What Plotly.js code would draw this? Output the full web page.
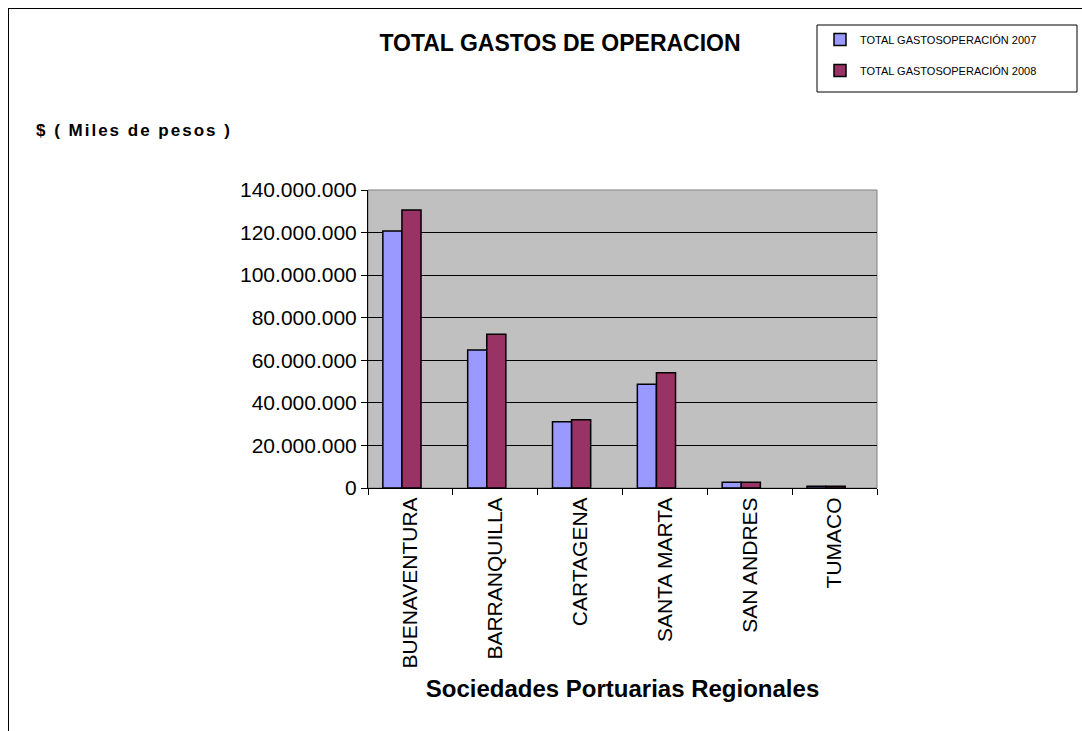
<!DOCTYPE html>
<html>
<head>
<meta charset="utf-8">
<script src="https://cdn.plot.ly/plotly-3.0.1.min.js"></script>
<style>
  html, body { margin: 0; padding: 0; background: #fff; overflow: hidden; }
  #chart { width: 1082px; height: 731px; position: absolute; left: 0; top: 0; }
  #frame { position: absolute; left: 8px; top: 8px; width: 1100px; height: 800px; border: 1px solid #000; pointer-events: none; }
  #chart .annotation-text { letter-spacing: 2px; }
</style>
</head>
<body>
<div id="chart"></div>
<div id="frame"></div>
<script>
const categories = ["BUENAVENTURA", "BARRANQUILLA", "CARTAGENA", "SANTA MARTA", "SAN ANDRES", "TUMACO"];
const gastos2007 = [120700000, 64800000, 31100000, 48700000, 2700000, 800000];
const gastos2008 = [130600000, 72200000, 32100000, 54200000, 2700000, 800000];
const seriesNames = ["TOTAL GASTOSOPERACIÓN 2007", "TOTAL GASTOSOPERACIÓN 2008"];

const FONT = "Arial, 'Liberation Sans', sans-serif";

const traces = [
  { type: "bar", x: categories, y: gastos2007, name: seriesNames[0], legendgroup: "a",
    width: 0.225, offset: -0.325,
    marker: { color: "#9999FF", line: { color: "#000", width: 1.5 } } },
  { type: "bar", x: categories, y: gastos2008, name: seriesNames[1], legendgroup: "b",
    width: 0.225, offset: -0.1,
    marker: { color: "#993366", line: { color: "#000", width: 1.5 } } }
];

const layout = {
  width: 1082, height: 731,
  margin: { l: 368, r: 205, t: 190, b: 243, pad: 0 },
  paper_bgcolor: "#fff",
  plot_bgcolor: "#C0C0C0",
  font: { family: FONT, color: "#000" },
  separators: ",.",
  barmode: "overlay",
  showlegend: true,
  title: { text: "<b>TOTAL GASTOS DE OPERACION</b>", font: { size: 23, family: FONT }, xref: "container", x: 560/1082, xanchor: "center", yref: "container", y: 1 - 43/731, yanchor: "middle" },
  xaxis: {
    type: "category",
    tickangle: -90,
    ticks: "outside", tickson: "boundaries", ticklen: 6, tickcolor: "#000",
    showline: true, linecolor: "#000", linewidth: 1,
    tickfont: { size: 21, family: FONT },
    title: { text: "<b>Sociedades Portuarias Regionales</b>", font: { size: 24, family: FONT }, standoff: 12 },
    automargin: false,
    fixedrange: true
  },
  yaxis: {
    range: [0, 140000000], dtick: 20000000, tick0: 0,
    tickformat: ",d",
    ticks: "outside", ticklen: 6, tickcolor: "#000",
    showline: true, linecolor: "#000", linewidth: 1,
    showgrid: true, gridcolor: "#000", gridwidth: 1,
    zeroline: false,
    tickfont: { size: 21, family: FONT },
    automargin: false,
    fixedrange: true
  },
  legend: {
    x: (820 - 368) / 509, xanchor: "left",
    y: (488 - 25) / 298, yanchor: "top",
    bgcolor: "rgba(0,0,0,0)", borderwidth: 0,
    font: { size: 11, family: FONT },
    tracegroupgap: 12,
    itemwidth: 30
  },
  shapes: [
    { type: "rect", xref: "paper", yref: "paper", x0: 0, x1: 1, y0: 0, y1: 1, line: { color: "#808080", width: 1 }, layer: "below" },
    { type: "rect", xref: "paper", yref: "paper", x0: (817 - 368) / 509, x1: (1077 - 368) / 509, y0: (488 - 25) / 298, y1: (488 - 92) / 298, line: { color: "#000", width: 1 }, fillcolor: "rgba(0,0,0,0)" }
  ],
  annotations: [
    { text: "<b>$ ( Miles de pesos )</b>", xref: "paper", yref: "paper", x: (133.5 - 368) / 509, xanchor: "center", y: (488 - 130) / 298, yanchor: "middle", showarrow: false, font: { size: 17, family: FONT } }
  ]
};

Plotly.newPlot("chart", traces, layout, { displayModeBar: false, staticPlot: true });
</script>
</body>
</html>
